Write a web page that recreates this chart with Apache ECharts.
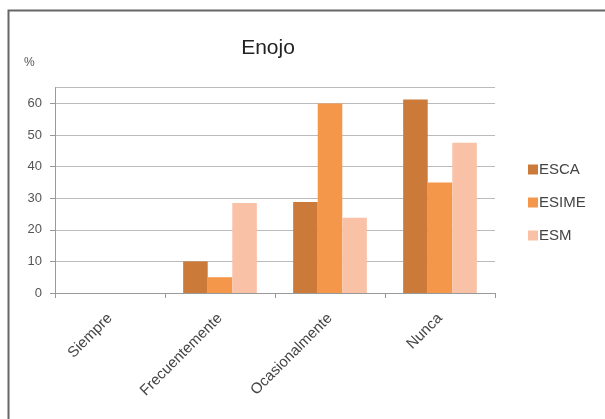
<!DOCTYPE html>
<html><head><meta charset="utf-8">
<script src="https://cdn.jsdelivr.net/npm/echarts@6/dist/echarts.min.js"></script>
<style>html,body{margin:0;padding:0;background:#fff}#c{width:605px;height:419px}</style>
</head><body><div id="c"></div>
<script>
const categories = ['Siempre', 'Frecuentemente', 'Ocasionalmente', 'Nunca'];
const seriesNames = ['ESCA', 'ESIME', 'ESM'];
const escaValues = [0, 10, 28.8, 61.3];
const esimeValues = [0, 5, 60, 35];
const esmValues = [0, 28.5, 23.8, 47.6];
const colors = ['#CB7A3A', '#F5974A', '#F9C2A7'];
const titleText = 'Enojo';
const yUnit = '%';

const chart = echarts.init(document.getElementById('c'));
const font = 'Liberation Sans, Arial, sans-serif';
const allValues = [escaValues, esimeValues, esmValues];
chart.setOption({
  animation: false,
  title: { text: titleText, left: 263, top: 33, textAlign: 'center',
    textStyle: { fontFamily: font, fontSize: 21, fontWeight: 'normal', color: '#222' } },
  graphic: [
    { type: 'rect', shape: { x: 8.5, y: 10.5, width: 620, height: 440 },
      style: { fill: 'none', stroke: '#666', lineWidth: 2 } },
    { type: 'text', left: 24, top: 57, style: { text: yUnit, font: '12px ' + font, fill: '#555' } }
  ],
  legend: {
    orient: 'vertical', left: 523, top: 157, itemGap: 18,
    itemWidth: 10, itemHeight: 10, icon: 'rect',
    textStyle: { fontFamily: font, fontSize: 15, color: '#444', padding: [0, 0, 0, -4] },
    data: seriesNames
  },
  grid: { left: 55, right: 110, top: 87.7, bottom: 126, containLabel: false },
  xAxis: {
    type: 'category', data: categories,
    axisLine: { lineStyle: { color: '#999' } },
    axisTick: { show: true, length: 5, lineStyle: { color: '#999' } },
    axisLabel: { rotate: 45, fontFamily: font, fontSize: 15, color: '#444', margin: 23 }
  },
  yAxis: {
    type: 'value', min: 0, max: 65, interval: 10,
    axisLine: { show: true, lineStyle: { color: '#999' } },
    axisTick: { show: true, length: 5, lineStyle: { color: '#999' } },
    axisLabel: { fontFamily: font, fontSize: 13, color: '#555', margin: 13, showMaxLabel: false,
      formatter: v => (v % 10 === 0 ? String(v) : '') },
    splitLine: { show: true, lineStyle: { color: '#bbb' } }
  },
  series: seriesNames.map((n, i) => ({
    name: n, type: 'bar', data: allValues[i], barGap: '0%', barCategoryGap: '33%',
    itemStyle: { color: colors[i] }
  }))
});
</script></body></html>
